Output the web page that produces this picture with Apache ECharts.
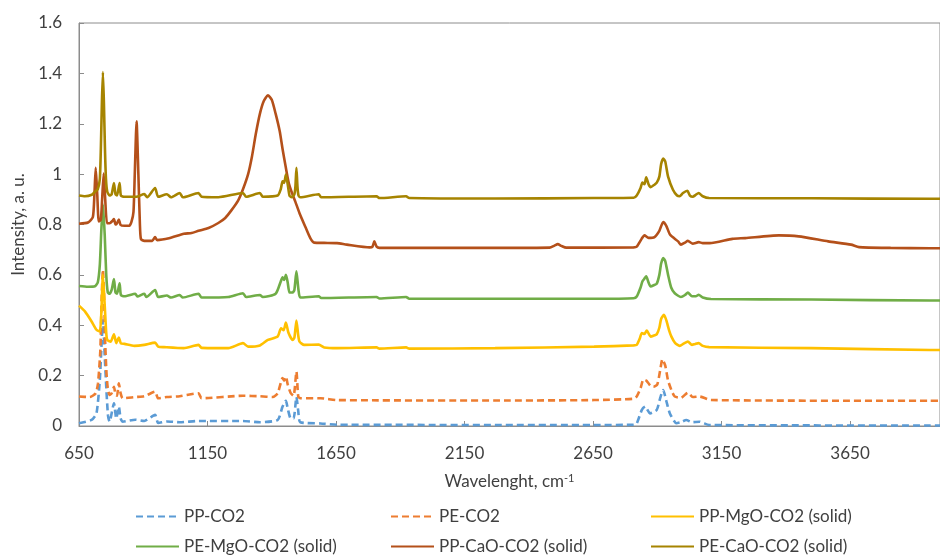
<!DOCTYPE html>
<html>
<head>
<meta charset="utf-8">
<script src="https://cdn.jsdelivr.net/npm/echarts@6/dist/echarts.min.js"></script>
<style>html,body{margin:0;padding:0;background:#fff}#c{width:940px;height:556px}</style>
</head>
<body>
<div id="c"></div>
<script>
const seriesNames = ['PP-CO2', 'PE-CO2', 'PP-MgO-CO2 (solid)', 'PE-MgO-CO2 (solid)', 'PP-CaO-CO2 (solid)', 'PE-CaO-CO2 (solid)'];
const xTicks = { min: 650, max: 4000, interval: 500 };
const yTicks = { min: 0, max: 1.6, interval: 0.2 };

const ppCO2 = [[650,0.011],[699,0.024],[718,0.05],[731,0.183],[738,0.33],[743,0.42],[750,0.28],[757,0.136],[763,0.04],[769,0.017],[786,0.09],[795,0.03],[805,0.077],[812,0.03],[820,0.017],[869,0.025],[904,0.02],[946,0.044],[958,0.012],[992,0.018],[1042,0.015],[1115,0.02],[1288,0.02],[1354,0.015],[1423,0.024],[1442,0.077],[1455,0.10],[1462,0.07],[1474,0.03],[1485,0.03],[1496,0.115],[1503,0.06],[1511,0.015],[1590,0.01],[1654,0.005],[2654,0.004],[2808,0.005],[2820,0.01],[2840,0.064],[2853,0.077],[2872,0.05],[2898,0.064],[2911,0.11],[2923,0.143],[2935,0.10],[2949,0.05],[2974,0.011],[2992,0.015],[3013,0.024],[3035,0.015],[3064,0.017],[3102,0.004],[3961,0.002],[4000,0.002]];

const peCO2 = [[650,0.117],[692,0.115],[715,0.13],[724,0.17],[733,0.30],[738,0.50],[743,0.62],[748,0.50],[752,0.33],[757,0.21],[762,0.15],[769,0.123],[777,0.13],[786,0.156],[792,0.125],[798,0.12],[805,0.17],[812,0.13],[820,0.11],[869,0.115],[904,0.118],[946,0.136],[958,0.11],[992,0.115],[1042,0.118],[1115,0.13],[1127,0.11],[1288,0.12],[1354,0.118],[1404,0.115],[1423,0.13],[1442,0.19],[1448,0.18],[1455,0.196],[1462,0.165],[1474,0.13],[1485,0.12],[1496,0.216],[1503,0.117],[1511,0.11],[1590,0.11],[1654,0.103],[2269,0.101],[2654,0.103],[2808,0.108],[2820,0.117],[2835,0.15],[2846,0.185],[2858,0.18],[2873,0.16],[2885,0.156],[2900,0.165],[2911,0.22],[2920,0.265],[2931,0.24],[2942,0.18],[2958,0.135],[2968,0.117],[2992,0.112],[3019,0.132],[3038,0.115],[3064,0.117],[3109,0.103],[3961,0.10],[4000,0.10]];

const ppMgO = [[650,0.478],[673,0.455],[699,0.415],[718,0.382],[731,0.375],[737,0.45],[743,0.60],[750,0.48],[756,0.37],[760,0.342],[773,0.335],[786,0.364],[795,0.329],[805,0.351],[813,0.328],[827,0.326],[865,0.318],[904,0.322],[946,0.331],[958,0.315],[981,0.313],[1058,0.309],[1115,0.322],[1127,0.31],[1231,0.309],[1288,0.329],[1308,0.315],[1354,0.32],[1385,0.342],[1423,0.355],[1436,0.388],[1446,0.38],[1455,0.411],[1465,0.37],[1481,0.342],[1488,0.35],[1496,0.419],[1503,0.36],[1508,0.335],[1526,0.322],[1583,0.323],[1604,0.312],[1654,0.309],[1808,0.312],[1819,0.307],[1923,0.312],[1935,0.307],[2269,0.309],[2654,0.315],[2808,0.32],[2820,0.322],[2831,0.345],[2840,0.369],[2850,0.365],[2859,0.379],[2874,0.355],[2889,0.36],[2898,0.364],[2908,0.39],[2915,0.425],[2926,0.441],[2935,0.42],[2946,0.38],[2955,0.355],[2969,0.33],[2987,0.318],[3004,0.328],[3019,0.335],[3035,0.322],[3046,0.325],[3061,0.329],[3077,0.318],[3102,0.313],[3500,0.309],[3961,0.302],[4000,0.302]];

const peMgO = [[650,0.556],[685,0.553],[712,0.555],[723,0.57],[731,0.64],[737,0.78],[743,0.88],[750,0.76],[756,0.60],[762,0.53],[769,0.525],[777,0.54],[786,0.583],[792,0.53],[798,0.525],[808,0.567],[813,0.52],[827,0.515],[869,0.525],[877,0.514],[904,0.525],[912,0.512],[946,0.54],[958,0.512],[992,0.518],[1008,0.51],[1042,0.52],[1054,0.51],[1115,0.525],[1127,0.51],[1231,0.512],[1288,0.527],[1300,0.512],[1354,0.52],[1365,0.512],[1415,0.525],[1435,0.574],[1442,0.59],[1448,0.58],[1455,0.60],[1462,0.57],[1469,0.53],[1481,0.53],[1488,0.54],[1496,0.614],[1504,0.54],[1511,0.51],[1583,0.515],[1592,0.508],[1808,0.512],[1819,0.506],[1923,0.512],[1935,0.505],[2654,0.505],[2808,0.507],[2820,0.514],[2835,0.55],[2842,0.574],[2850,0.585],[2857,0.594],[2866,0.57],[2874,0.554],[2889,0.56],[2898,0.565],[2908,0.60],[2915,0.645],[2923,0.667],[2931,0.655],[2942,0.60],[2954,0.55],[2968,0.527],[2992,0.512],[3008,0.52],[3019,0.53],[3035,0.515],[3050,0.515],[3061,0.521],[3077,0.51],[3109,0.504],[3500,0.502],[3961,0.498],[4000,0.498]];

const ppCaO = [[650,0.803],[685,0.808],[704,0.83],[710,0.92],[715,1.025],[721,0.92],[727,0.812],[735,0.82],[740,0.90],[746,1.002],[752,0.90],[759,0.805],[769,0.805],[781,0.815],[786,0.822],[792,0.80],[798,0.805],[805,0.82],[812,0.798],[827,0.795],[846,0.795],[854,0.81],[862,0.85],[867,1.0],[874,1.21],[881,1.0],[887,0.80],[891,0.742],[904,0.735],[935,0.735],[946,0.75],[954,0.738],[1000,0.745],[1058,0.763],[1088,0.766],[1115,0.775],[1154,0.786],[1192,0.806],[1219,0.826],[1242,0.855],[1269,0.895],[1288,0.94],[1308,1.0],[1323,1.07],[1338,1.16],[1354,1.24],[1369,1.29],[1385,1.313],[1400,1.295],[1415,1.24],[1431,1.17],[1442,1.10],[1454,1.03],[1465,0.97],[1477,0.93],[1492,0.89],[1508,0.845],[1531,0.79],[1550,0.746],[1565,0.728],[1604,0.727],[1654,0.726],[1692,0.72],[1781,0.709],[1792,0.712],[1799,0.733],[1808,0.712],[1819,0.707],[2269,0.707],[2481,0.708],[2500,0.716],[2513,0.722],[2527,0.715],[2546,0.708],[2808,0.709],[2820,0.712],[2839,0.743],[2850,0.757],[2866,0.747],[2889,0.75],[2908,0.775],[2923,0.81],[2935,0.795],[2950,0.759],[2981,0.733],[2992,0.72],[3008,0.728],[3019,0.735],[3038,0.724],[3061,0.73],[3077,0.726],[3104,0.726],[3192,0.743],[3242,0.746],[3373,0.757],[3450,0.753],[3565,0.733],[3654,0.72],[3685,0.71],[3808,0.707],[3961,0.706],[4000,0.706]];

const peCaO = [[650,0.915],[673,0.912],[700,0.918],[712,0.93],[723,0.94],[731,0.98],[735,1.10],[739,1.28],[743,1.405],[747,1.28],[751,1.10],[755,0.98],[760,0.93],[769,0.915],[777,0.92],[786,0.965],[792,0.92],[798,0.915],[808,0.965],[813,0.915],[827,0.91],[873,0.91],[904,0.921],[915,0.908],[946,0.945],[958,0.91],[992,0.92],[1008,0.908],[1042,0.925],[1054,0.908],[1115,0.925],[1127,0.91],[1192,0.908],[1288,0.925],[1300,0.91],[1354,0.925],[1365,0.91],[1423,0.915],[1435,0.94],[1442,0.972],[1448,0.965],[1455,0.998],[1462,0.96],[1469,0.915],[1477,0.908],[1488,0.92],[1492,0.95],[1496,1.025],[1500,0.95],[1504,0.915],[1511,0.908],[1583,0.92],[1592,0.908],[1808,0.912],[1819,0.905],[1923,0.912],[1935,0.905],[2269,0.903],[2654,0.905],[2808,0.906],[2820,0.915],[2835,0.945],[2842,0.967],[2850,0.96],[2857,0.987],[2866,0.96],[2874,0.948],[2889,0.958],[2898,0.966],[2908,0.99],[2915,1.04],[2923,1.062],[2931,1.05],[2942,0.99],[2961,0.938],[2977,0.915],[2987,0.912],[3000,0.925],[3017,0.934],[3027,0.915],[3038,0.91],[3050,0.918],[3061,0.925],[3077,0.912],[3102,0.905],[3500,0.904],[3961,0.902],[4000,0.902]];

const seriesData = [ppCO2, peCO2, ppMgO, peMgO, ppCaO, peCaO];
const colors = ['#5B9BD5', '#ED7D31', '#FFC000', '#70AD47', '#B4501A', '#A68400'];
const dashed = [true, true, false, false, false, false];

const FONT = 'Lato';
const FS = 17;
const TXT = '#404040';
const AX = '#8C8C8C';

const legendPos = [[135, 508], [390, 508], [650, 508], [135, 538], [390, 538], [650, 538]];

const chart = echarts.init(document.getElementById('c'), null, { renderer: 'canvas' });
chart.setOption({
  animation: false,
  backgroundColor: '#fff',
  textStyle: { fontFamily: FONT },
  grid: { left: 79, top: 23, right: -10, bottom: 130, show: true, borderColor: AX, borderWidth: 1 },
  legend: seriesNames.map((n, i) => ({
    data: [n], left: legendPos[i][0], top: legendPos[i][1], padding: 0,
    itemWidth: 43, itemHeight: 14, itemGap: 4,
    itemStyle: { opacity: 0 },
    textStyle: { fontFamily: FONT, fontSize: FS, color: TXT }
  })),
  xAxis: {
    type: 'value', min: xTicks.min, max: xTicks.max, interval: xTicks.interval,
    name: '{a|Wavelenght, cm}{s|-1}', nameLocation: 'middle', nameGap: 47,
    nameTextStyle: { rich: { a: { fontFamily: FONT, fontSize: FS, color: TXT }, s: { fontFamily: FONT, fontSize: 11, color: TXT, verticalAlign: 'top', padding: [0,0,6,0] } } },
    axisLine: { show: true, lineStyle: { color: AX, width: 1 } },
    axisTick: { show: true, inside: true, length: 5, lineStyle: { color: AX } },
    axisLabel: { fontFamily: FONT, fontSize: FS, color: TXT, margin: 19, showMaxLabel: false, formatter: v => String(v) },
    splitLine: { show: false }
  },
  yAxis: {
    type: 'value', min: yTicks.min, max: yTicks.max, interval: yTicks.interval,
    name: 'Intensity, a. u.', nameLocation: 'middle', nameGap: 48,
    nameTextStyle: { fontFamily: FONT, fontSize: FS, color: TXT },
    axisLine: { show: true, lineStyle: { color: AX, width: 1 } },
    axisTick: { show: true, inside: true, length: 5, lineStyle: { color: AX } },
    axisLabel: { fontFamily: FONT, fontSize: FS, color: TXT, margin: 17 },
    splitLine: { show: false }
  },
  series: seriesNames.map((n, i) => ({
    name: n, type: 'line', data: seriesData[i], symbol: 'none', showSymbol: false,
    smooth: 0.2, clip: true,
    lineStyle: { color: colors[i], width: 2.6, type: dashed[i] ? [7, 4] : 'solid' },
    itemStyle: { color: colors[i] }
  }))
});
</script>
</body>
</html>
